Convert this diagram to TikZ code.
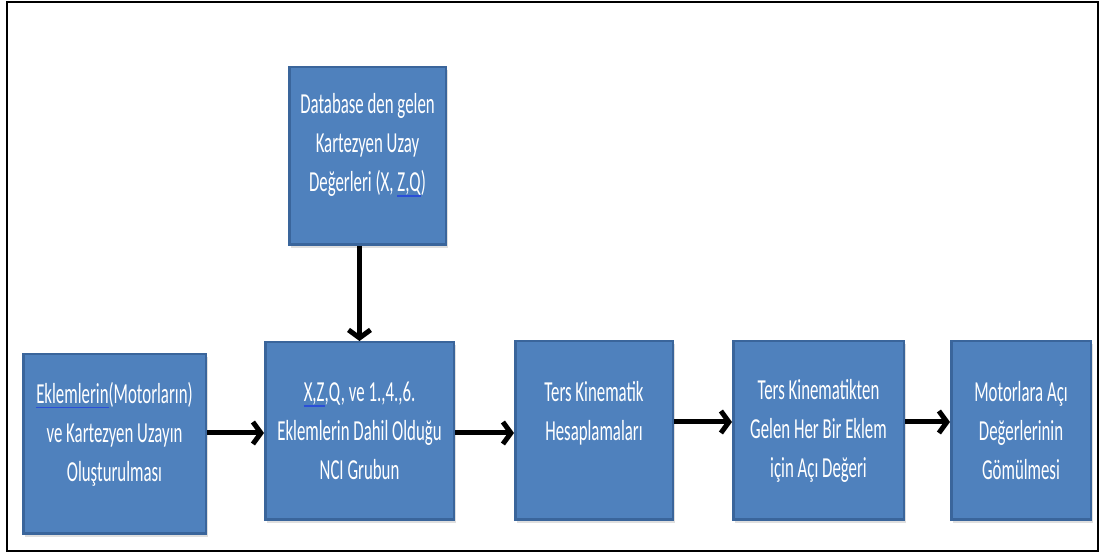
\documentclass[tikz,border=0pt]{standalone}
\usepackage{fontspec}
\usetikzlibrary{arrows.meta,shadows}
\newfontfamily\boxfont[FakeStretch=0.58]{Carlito}
\definecolor{stagefill}{HTML}{4F81BD}
\definecolor{stageline}{HTML}{3A659B}
\definecolor{spellblue}{HTML}{2B4FD8}
% blue squiggle under words that the checker flagged
\newcommand\spelled[1]{\setbox0\hbox{#1}\rlap{\textcolor{spellblue}{\rule[-5pt]{\wd0}{1.6pt}}}\box0}

\begin{document}
\begin{tikzpicture}[x=1pt,y=1pt,
  stage/.style={draw=stageline, line width=2.5pt, fill=stagefill, text=white,
    inner sep=0pt, align=center, font=\boxfont\fontsize{29}{39}\selectfont,
    drop shadow={shadow xshift=2pt, shadow yshift=-3pt, opacity=0.25}},
  flow/.style={line width=5pt, -{Straight Barb[length=8pt,width=22pt]}}]
\useasboundingbox (0,0) rectangle (1105,556);
\draw[line width=2pt] (7,5) rectangle (1098,554);

\node[stage, minimum width=156.5pt, minimum height=177.5pt] (db) at (367.5,400)
  {Database den gelen\\Kartezyen Uzay\\Değerleri (X, \spelled{Z,Q})\\[-12pt]\mbox{}};
\node[stage, minimum width=182.5pt, minimum height=179.5pt] (b1) at (114.5,112)
  {\spelled{Eklemlerin}(Motorların)\\ve Kartezyen Uzayın\\Oluşturulması\\[-14pt]\mbox{}};
\node[stage, minimum width=188.5pt, minimum height=177.5pt] (b2) at (359.5,125)
  {\spelled{X,Z},Q, ve 1.,4.,6.\\Eklemlerin Dahil Olduğu\\NCI Grubun};
\node[stage, minimum width=157.5pt, minimum height=178.5pt] (b3) at (594,125.5)
  {Ters Kinematik\\Hesaplamaları\\\mbox{}};
\node[stage, minimum width=170.5pt, minimum height=178.5pt] (b4) at (818.5,125.5)
  {Ters Kinematikten\\Gelen Her Bir Eklem\\için Açı Değeri};
\node[stage, minimum width=139.5pt, minimum height=178.5pt] (b5) at (1021,125.5)
  {Motorlara Açı\\Değerlerinin\\Gömülmesi};

\draw[flow] (b2.north |- db.south) -- (b2.north);
\draw[flow] ([yshift=-2pt]b1.east |- b2.west) -- ([yshift=-2pt]b2.west);
\draw[flow] ([yshift=-2pt]b2.east) -- ([yshift=-2pt]b2.east -| b3.west);
\draw[flow] ([yshift=8.5pt]b3.east) -- ([yshift=8.5pt]b4.west);
\draw[flow] ([yshift=8.5pt]b4.east) -- ([yshift=8.5pt]b5.west);
\end{tikzpicture}
\end{document}
